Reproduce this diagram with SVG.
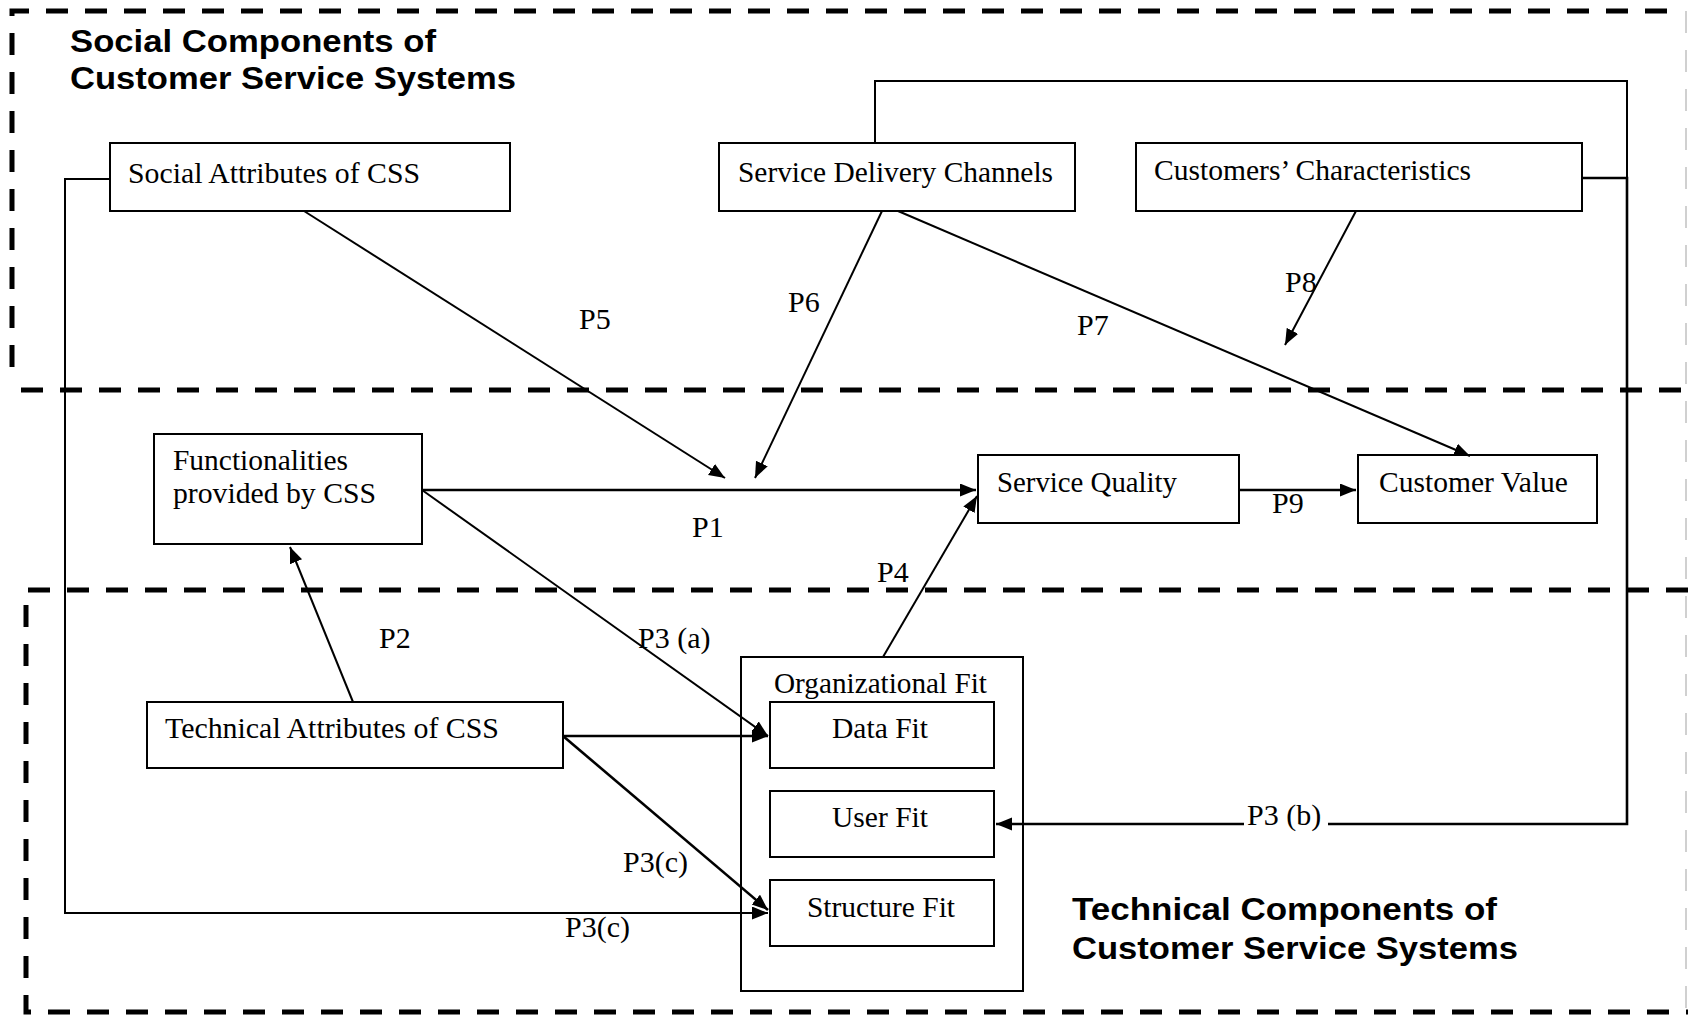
<svg xmlns="http://www.w3.org/2000/svg" width="1688" height="1015" viewBox="0 0 1688 1015">
<style>
.bg{fill:#fff}
.box{fill:#fff;stroke:#000;stroke-width:2}
.t{font-family:"Liberation Serif","Times New Roman",serif;font-size:30px;fill:#000}
.h{font-family:"Liberation Sans",Arial,sans-serif;font-size:31px;font-weight:bold;fill:#000}
.dash{fill:none;stroke:#000;stroke-width:5;stroke-dasharray:22 17}
.faint{fill:none;stroke:#d0d0d0;stroke-width:2;stroke-dasharray:22 17}
.c{fill:none;stroke:#000;stroke-width:2}
.c3{fill:none;stroke:#000;stroke-width:2.6}
</style>
<defs>
<marker id="ah" markerUnits="userSpaceOnUse" markerWidth="18" markerHeight="14" refX="16" refY="6.5" orient="auto">
<path d="M0,0 L16,6.5 L0,13 z" fill="#000"/>
</marker>
</defs>
<rect class="bg" x="0" y="0" width="1688" height="1015"/>

<g id="regions">
<path class="dash" d="M12,367 V11 H1684"/>
<path class="dash" d="M21,390 H1688"/>
<path class="dash" d="M1688,590 H26 V1012 H1688"/>
<path class="faint" d="M1686,11 V1012"/>
<text class="h" x="70" y="52" textLength="366" lengthAdjust="spacingAndGlyphs">Social Components of</text>
<text class="h" x="70" y="89" textLength="446" lengthAdjust="spacingAndGlyphs">Customer Service Systems</text>
<text class="h" x="1072" y="920" textLength="425" lengthAdjust="spacingAndGlyphs">Technical Components of</text>
<text class="h" x="1072" y="959" textLength="446" lengthAdjust="spacingAndGlyphs">Customer Service Systems</text>
</g>

<g id="social-attributes">
<rect class="box" x="110" y="143" width="400" height="68"/>
<text class="t" x="128" y="183" textLength="292" lengthAdjust="spacingAndGlyphs">Social Attributes of CSS</text>
</g>
<g id="service-delivery-channels">
<rect class="box" x="719" y="143" width="356" height="68"/>
<text class="t" x="738" y="182" textLength="315" lengthAdjust="spacingAndGlyphs">Service Delivery Channels</text>
</g>
<g id="customers-characteristics">
<rect class="box" x="1136" y="143" width="446" height="68"/>
<text class="t" x="1154" y="180" textLength="317" lengthAdjust="spacingAndGlyphs">Customers’ Characteristics</text>
</g>
<g id="functionalities">
<rect class="box" x="154" y="434" width="268" height="110"/>
<text class="t" x="173" y="470" textLength="175" lengthAdjust="spacingAndGlyphs">Functionalities</text>
<text class="t" x="173" y="503" textLength="203" lengthAdjust="spacingAndGlyphs">provided by CSS</text>
</g>
<g id="service-quality">
<rect class="box" x="978" y="455" width="261" height="68"/>
<text class="t" x="997" y="492" textLength="180" lengthAdjust="spacingAndGlyphs">Service Quality</text>
</g>
<g id="customer-value">
<rect class="box" x="1358" y="455" width="239" height="68"/>
<text class="t" x="1379" y="492" textLength="189" lengthAdjust="spacingAndGlyphs">Customer Value</text>
</g>
<g id="technical-attributes">
<rect class="box" x="147" y="702" width="416" height="66"/>
<text class="t" x="165" y="738" textLength="334" lengthAdjust="spacingAndGlyphs">Technical Attributes of CSS</text>
</g>
<g id="organizational-fit">
<rect class="box" x="741" y="657" width="282" height="334"/>
<text class="t" x="774" y="693" textLength="213" lengthAdjust="spacingAndGlyphs">Organizational Fit</text>
</g>
<g id="data-fit">
<rect class="box" x="770" y="702" width="224" height="66"/>
<text class="t" x="832" y="738" textLength="96" lengthAdjust="spacingAndGlyphs">Data Fit</text>
</g>
<g id="user-fit">
<rect class="box" x="770" y="791" width="224" height="66"/>
<text class="t" x="832" y="827" textLength="96" lengthAdjust="spacingAndGlyphs">User Fit</text>
</g>
<g id="structure-fit">
<rect class="box" x="770" y="880" width="224" height="66"/>
<text class="t" x="807" y="917" textLength="148" lengthAdjust="spacingAndGlyphs">Structure Fit</text>
</g>

<g id="connectors">
<path class="c" d="M110,179 H65 V913 H768" marker-end="url(#ah)"/>
<path class="c" d="M304,211 L725,478" marker-end="url(#ah)"/>
<path class="c" d="M882,211 L755,478" marker-end="url(#ah)"/>
<path class="c" d="M898,211 L1470,456" marker-end="url(#ah)"/>
<path class="c" d="M1356,211 L1285,345" marker-end="url(#ah)"/>
<path class="c" d="M875,143 V81 H1627 V178"/>
<path class="c3" d="M1582,178 H1627 V824 H1328"/>
<path class="c3" d="M1244,824 H996" marker-end="url(#ah)"/>
<path class="c3" d="M422,490 H976" marker-end="url(#ah)"/>
<path class="c3" d="M1239,490 H1356" marker-end="url(#ah)"/>
<path class="c" d="M883,657 L977,496" marker-end="url(#ah)"/>
<path class="c" d="M353,702 L290,547" marker-end="url(#ah)"/>
<path class="c" d="M422,490 L768,736" marker-end="url(#ah)"/>
<path class="c3" d="M563,736 H768" marker-end="url(#ah)"/>
<path class="c3" d="M563,736 L768,910" marker-end="url(#ah)"/>
<text class="t" x="579" y="329">P5</text>
<text class="t" x="788" y="312">P6</text>
<text class="t" x="1077" y="335">P7</text>
<text class="t" x="1285" y="292">P8</text>
<text class="t" x="692" y="537">P1</text>
<text class="t" x="1272" y="513">P9</text>
<text class="t" x="877" y="582">P4</text>
<text class="t" x="379" y="648">P2</text>
<text class="t" x="638" y="648">P3 (a)</text>
<text class="t" x="1247" y="825">P3 (b)</text>
<text class="t" x="623" y="872">P3(c)</text>
<text class="t" x="565" y="937">P3(c)</text>
</g>
</svg>
